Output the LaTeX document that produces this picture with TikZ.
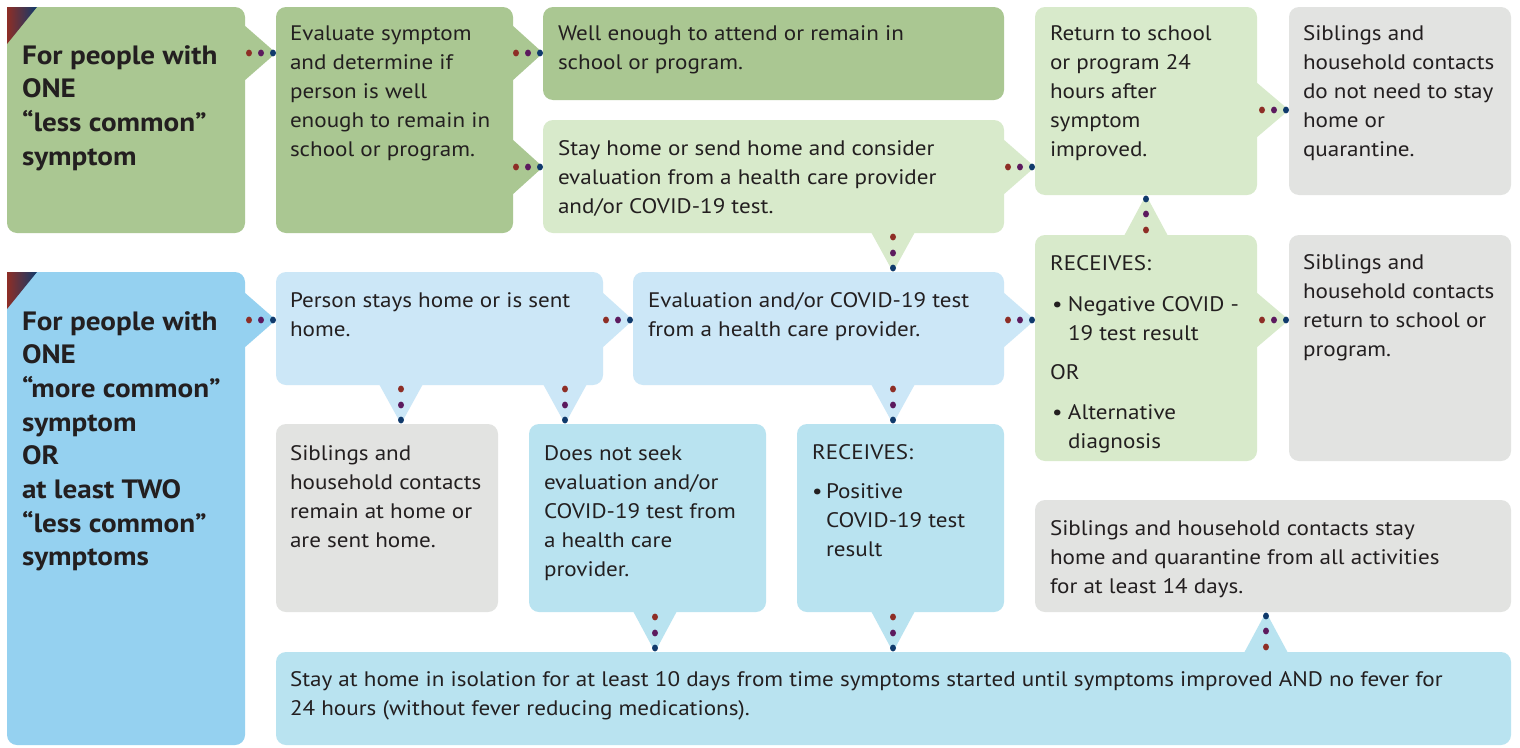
\documentclass[tikz,border=0pt]{standalone}
\usepackage{fontspec}
\setmainfont{PT Sans}[FakeStretch=1.1]
\usetikzlibrary{calc}
\definecolor{cgreen}{HTML}{AAC792}
\definecolor{clgreen}{HTML}{D8EACB}
\definecolor{cgray}{HTML}{E2E3E1}
\definecolor{cblue}{HTML}{95D1F0}
\definecolor{clblue}{HTML}{CCE7F7}
\definecolor{cmblue}{HTML}{B9E3F0}
\definecolor{cred}{HTML}{8E2E26}
\definecolor{cpurple}{HTML}{5C1A5E}
\definecolor{cnavy}{HTML}{103A6C}
\definecolor{ctext}{HTML}{231F20}
\tikzset{
  box/.style={rounded corners=10pt, inner sep=0pt, outer sep=0pt, anchor=north west, draw=none},
  txt/.style={anchor=base west, inner sep=0pt, outer sep=0pt, text=ctext},
  dotr/.style={fill=cred}, dotp/.style={fill=cpurple}, dotn/.style={fill=cnavy},
}
\newcommand\bodyfont{\fontsize{21}{29}\selectfont}
\newcommand\titlefont{\fontsize{26.5}{33.7}\selectfont\bfseries}
\newcommand\tx[2]{\parbox[t]{#1pt}{\raggedright #2}}
\newcommand\dotat[2]{\fill[#1] #2 ellipse [x radius=3pt, y radius=3.4pt];}
% horizontal connector: src, tgt, y, color
\newcommand\conR[4]{%
  \fill[#4] ($(#1.east |- 0,#3)+(-1,-28)$) -- (#2.west |- 0,#3) -- ($(#1.east |- 0,#3)+(-1,28)$) -- cycle;
  \dotat{dotr}{($(#2.west |- 0,#3)+(-27,0)$)}
  \dotat{dotp}{($(#2.west |- 0,#3)+(-15,0)$)}
  \dotat{dotn}{($(#2.west |- 0,#3)+(-3,0)$)}}
% downward connector: src, tgt, x, color
\newcommand\conD[4]{%
  \fill[#4] ($(#1.south -| #3,0)+(-22,-1)$) -- (#2.north -| #3,0) -- ($(#1.south -| #3,0)+(22,-1)$) -- cycle;
  \dotat{dotr}{($(#2.north -| #3,0)+(0,-35)$)}
  \dotat{dotp}{($(#2.north -| #3,0)+(0,-19)$)}
  \dotat{dotn}{($(#2.north -| #3,0)+(0,-4)$)}}
% upward connector: src, tgt, x, color
\newcommand\conU[4]{%
  \fill[#4] ($(#1.north -| #3,0)+(-22,1)$) -- (#2.south -| #3,0) -- ($(#1.north -| #3,0)+(22,1)$) -- cycle;
  \dotat{dotr}{($(#2.south -| #3,0)+(0,35)$)}
  \dotat{dotp}{($(#2.south -| #3,0)+(0,19)$)}
  \dotat{dotn}{($(#2.south -| #3,0)+(0,4)$)}}
\begin{document}
\begin{tikzpicture}[x=1pt,y=-1pt]
\useasboundingbox[fill=white] (0,0) rectangle (1520,747);
% boxes
\node[box, fill=cgreen, minimum width=238pt, minimum height=226pt] (A1) at (7,7) {};
\node[box, fill=cgreen, minimum width=237pt, minimum height=226pt] (B1) at (276,7) {};
\node[box, fill=cgreen, minimum width=461pt, minimum height=93pt] (C1) at (543,7) {};
\node[box, fill=clgreen, minimum width=461pt, minimum height=113pt] (C2) at (543,120) {};
\node[box, fill=clgreen, minimum width=222pt, minimum height=188pt] (D1) at (1035,7) {};
\node[box, fill=cgray, minimum width=222pt, minimum height=188pt] (E1) at (1289,7) {};
\node[box, fill=cblue, minimum width=238pt, minimum height=473pt] (A2) at (7,272) {};
\node[box, fill=clblue, minimum width=327pt, minimum height=113pt] (B2) at (276,272) {};
\node[box, fill=clblue, minimum width=371pt, minimum height=113pt] (C3) at (633,272) {};
\node[box, fill=clgreen, minimum width=222pt, minimum height=226pt] (D2) at (1035,235) {};
\node[box, fill=cgray, minimum width=222pt, minimum height=226pt] (E2) at (1289,235) {};
\node[box, fill=cgray, minimum width=222pt, minimum height=188pt] (F1) at (276,424) {};
\node[box, fill=cmblue, minimum width=237pt, minimum height=188pt] (F2) at (529,424) {};
\node[box, fill=cmblue, minimum width=207pt, minimum height=188pt] (F3) at (797,424) {};
\node[box, fill=cgray, minimum width=476pt, minimum height=112pt] (F4) at (1035,500) {};
\node[box, fill=cmblue, minimum width=1235pt, minimum height=93pt] (G) at (276,652) {};
% corner gradient triangles
\shade[left color=cred, middle color=cpurple, right color=cnavy] (A1.north west) -- ($(A1.north west)+(30,0)$) -- ($(A1.north west)+(0,37)$) -- cycle;
\shade[left color=cred, middle color=cpurple, right color=cnavy] (A2.north west) -- ($(A2.north west)+(30,0)$) -- ($(A2.north west)+(0,37)$) -- cycle;
% connectors
\conR{A1}{B1}{53}{cgreen}
\conR{B1}{C1}{53}{cgreen}
\conR{B1}{C2}{167}{cgreen}
\conR{C2}{D1}{167}{clgreen}
\conR{D1}{E1}{110}{clgreen}
\conR{A2}{B2}{320}{cblue}
\conR{B2}{C3}{320}{clblue}
\conR{C3}{D2}{320}{clblue}
\conR{D2}{E2}{320}{clgreen}
\conD{C2}{C3}{893}{clgreen}
\conD{B2}{F1}{401}{clblue}
\conD{B2}{F2}{565}{clblue}
\conD{C3}{F3}{893}{clblue}
\conD{F2}{G}{655}{cmblue}
\conD{F3}{G}{893}{cmblue}
\conU{D2}{D1}{1146}{clgreen}
\conU{G}{F4}{1266}{cmblue}
% texts
\node[txt, font=\titlefont] (A1t) at ($(A1.north west)+(15,57)$) {\tx{225}{For people with\\ONE\\“less common”\\symptom}};
\node[txt, font=\titlefont] (A2t) at ($(A2.north west)+(15,58)$) {\tx{225}{For people with\\ONE\\“more common”\\symptom\\OR\\at least TWO\\“less common”\\symptoms}};
\node[txt, font=\bodyfont] (B1t) at ($(B1.north west)+(14,33)$) {\tx{225}{Evaluate symptom\\and determine if\\person is well\\enough to remain in\\school or program.}};
\node[txt, font=\bodyfont] (C1t) at ($(C1.north west)+(15,33)$) {\tx{445}{Well enough to attend or remain in\\school or program.}};
\node[txt, font=\bodyfont] (C2t) at ($(C2.north west)+(15,35)$) {\tx{445}{Stay home or send home and consider\\evaluation from a health care provider\\and/or COVID-19 test.}};
\node[txt, font=\bodyfont] (D1t) at ($(D1.north west)+(15,33)$) {\tx{210}{Return to school\\or program 24\\hours after\\symptom\\improved.}};
\node[txt, font=\bodyfont] (E1t) at ($(E1.north west)+(14,33)$) {\tx{210}{Siblings and\\household contacts\\do not need to stay\\home or\\quarantine.}};
\node[txt, font=\bodyfont] (B2t) at ($(B2.north west)+(14,35)$) {\tx{315}{Person stays home or is sent\\home.}};
\node[txt, font=\bodyfont] (C3t) at ($(C3.north west)+(15,35)$) {\tx{355}{Evaluation and/or COVID-19 test\\from a health care provider.}};
\node[txt, font=\bodyfont] (D2t) at ($(D2.north west)+(15,35)$) {\tx{215}{RECEIVES:\\[12pt]
  \hspace*{2pt}\makebox[16pt][l]{\textbullet}Negative COVID -\\
  \hspace*{18pt}19 test result\\[10pt]
  OR\\[11pt]
  \hspace*{2pt}\makebox[16pt][l]{\textbullet}Alternative\\
  \hspace*{18pt}diagnosis}};
\node[txt, font=\bodyfont] (E2t) at ($(E2.north west)+(14,34)$) {\tx{210}{Siblings and\\household contacts\\return to school or\\program.}};
\node[txt, font=\bodyfont] (F1t) at ($(F1.north west)+(14,36)$) {\tx{210}{Siblings and\\household contacts\\remain at home or\\are sent home.}};
\node[txt, font=\bodyfont] (F2t) at ($(F2.north west)+(15,36)$) {\tx{225}{Does not seek\\evaluation and/or\\COVID-19 test from\\a health care\\provider.}};
\node[txt, font=\bodyfont] (F3t) at ($(F3.north west)+(15,35)$) {\tx{195}{RECEIVES:\\[10pt]
  \makebox[14pt][l]{\textbullet}Positive\\
  \hspace*{14pt}COVID-19 test\\
  \hspace*{14pt}result}};
\node[txt, font=\bodyfont] (F4t) at ($(F4.north west)+(15,35)$) {\tx{465}{Siblings and household contacts stay\\home and quarantine from all activities\\for at least 14 days.}};
\node[txt, font=\bodyfont] (Gt) at ($(G.north west)+(14,34)$) {\tx{1220}{Stay at home in isolation for at least 10 days from time symptoms started until symptoms improved AND no fever for\\24 hours (without fever reducing medications).}};
\end{tikzpicture}
\end{document}
